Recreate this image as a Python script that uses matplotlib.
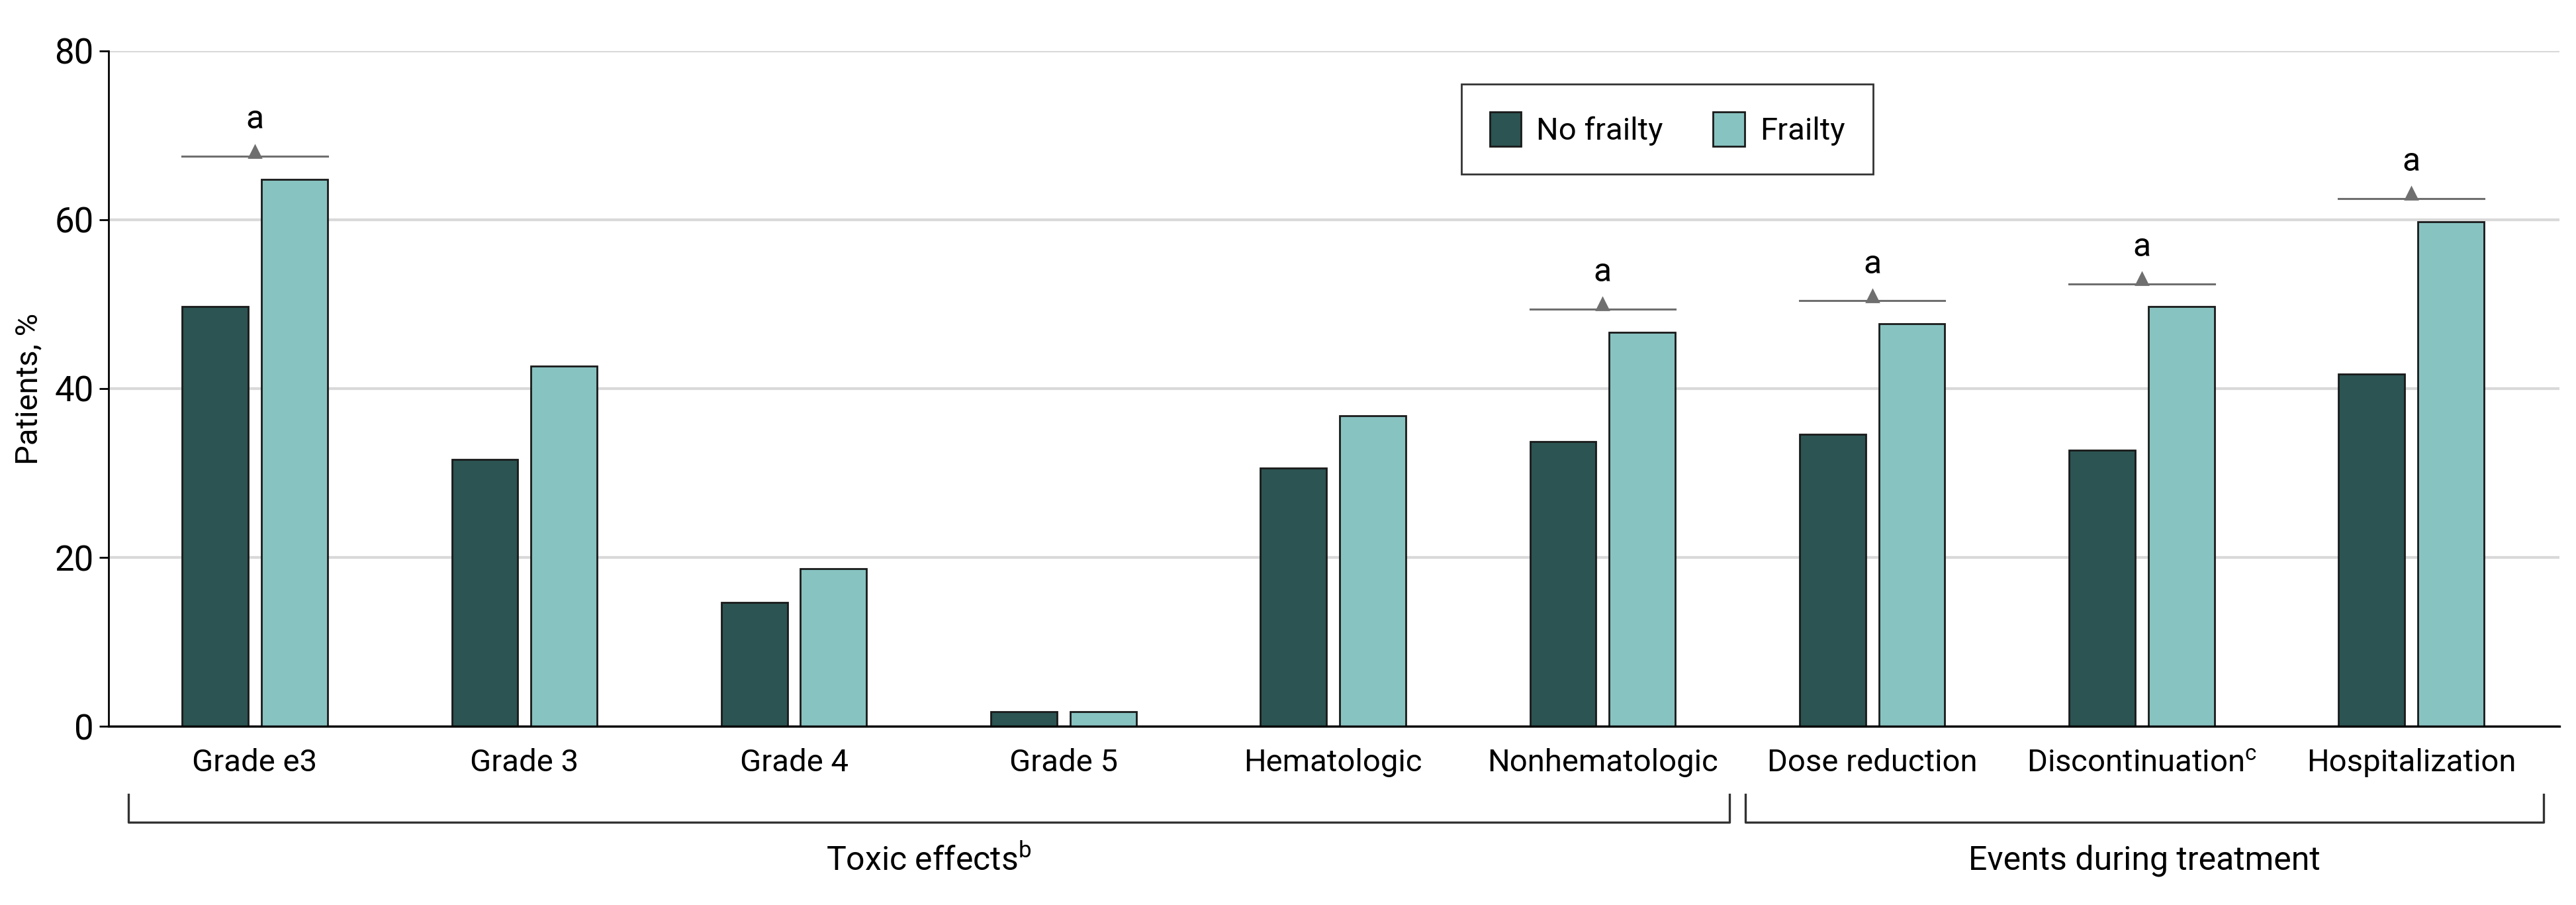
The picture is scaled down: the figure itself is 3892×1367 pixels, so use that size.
import matplotlib
matplotlib.use("Agg")
import matplotlib.pyplot as plt
import matplotlib.transforms as mtransforms
from matplotlib.patches import Patch
import numpy as np

categories = ["Grade e3", "Grade 3", "Grade 4", "Grade 5", "Hematologic",
              "Nonhematologic", "Dose reduction", "Discontinuation$^{\\mathrm{c}}$", "Hospitalization"]
no_frailty = [49.7, 31.6, 14.7, 1.7, 30.6, 33.7, 34.6, 32.7, 41.7]
frailty = [64.8, 42.7, 18.7, 1.7, 36.8, 46.7, 47.7, 49.7, 59.8]
significant = [True, False, False, False, False, True, True, True, True]
groups = ["Toxic effects$^{\\mathrm{b}}$", "Events during treatment"]
group_spans = [(-0.47, 5.47), (5.53, 8.49)]
yticks = [0, 20, 40, 60, 80]

FONT = ["Roboto", "DejaVu Sans"]
plt.rcParams["font.family"] = FONT
plt.rcParams["mathtext.fontset"] = "custom"
plt.rcParams["mathtext.rm"] = "Roboto"
plt.rcParams["mathtext.it"] = "Roboto"

dark = "#2b5452"
light = "#87c3c1"
fs = 17

fig = plt.figure(figsize=(19.46, 6.835), dpi=200)
ax = fig.add_axes([0.0421, 0.1975, 0.9515, 0.7462])

x = np.arange(len(categories))
w = 0.245
off = 0.147
ax.bar(x - off, no_frailty, w, color=dark, edgecolor="#1a1a1a", linewidth=1.0, label="No frailty", zorder=3)
ax.bar(x + off, frailty, w, color=light, edgecolor="#1a1a1a", linewidth=1.0, label="Frailty", zorder=3)

ax.set_xlim(-0.543, 8.55)
ax.set_ylim(0, 80)
ax.set_yticks(yticks)
ax.yaxis.grid(True, color="#d9d9d9", linewidth=1.5, zorder=0)
ax.set_axisbelow(True)
for s in ["top", "right"]:
    ax.spines[s].set_visible(False)
ax.spines["left"].set_linewidth(1.0)
ax.spines["bottom"].set_linewidth(1.2)
ax.spines["left"].set_zorder(4)
ax.spines["bottom"].set_zorder(4)
ax.tick_params(axis="y", length=5, width=1.0, labelsize=19, pad=3)
ax.tick_params(axis="x", length=0, labelsize=fs, pad=12)
ax.set_xticks(x)
ax.set_xticklabels(categories)
ax.set_ylabel("Patients, %", fontsize=fs, labelpad=6)

# significance markers
for i, sig in enumerate(significant):
    if sig:
        yl = frailty[i] + 2.7
        ax.plot([x[i] - off - w / 2, x[i] + off + w / 2], [yl, yl], color="#6f6f6f", lw=1.1, zorder=4)
        ax.plot([x[i]], [yl + 0.6], marker="^", color="#6f6f6f", markersize=6.5, zorder=4)
        ax.text(x[i], yl + 2.5, "a", ha="center", va="bottom", fontsize=18, zorder=4)

# group brackets
trans = mtransforms.blended_transform_factory(ax.transData, ax.transAxes)
for name, (a, b) in zip(groups, group_spans):
    ax.plot([a, a, b, b], [-0.101, -0.142, -0.142, -0.101], color="#333333", lw=1.2,
            transform=trans, clip_on=False)
    ax.text((a + b) / 2, -0.199, name, ha="center", va="center", fontsize=18,
            transform=trans)

handles = [Patch(facecolor=dark, edgecolor="#1a1a1a", linewidth=1.0),
           Patch(facecolor=light, edgecolor="#1a1a1a", linewidth=1.0)]
leg = ax.legend(handles, ["No frailty", "Frailty"], ncol=2, fontsize=fs,
                loc="upper left", bbox_to_anchor=(0.552, 0.951), frameon=True,
                fancybox=False, edgecolor="black", handlelength=1.0, handleheight=1.3,
                columnspacing=1.6, handletextpad=0.5, borderpad=0.9, borderaxespad=0)
leg.get_frame().set_linewidth(1.0)

fig.savefig("out.png", dpi=200)
